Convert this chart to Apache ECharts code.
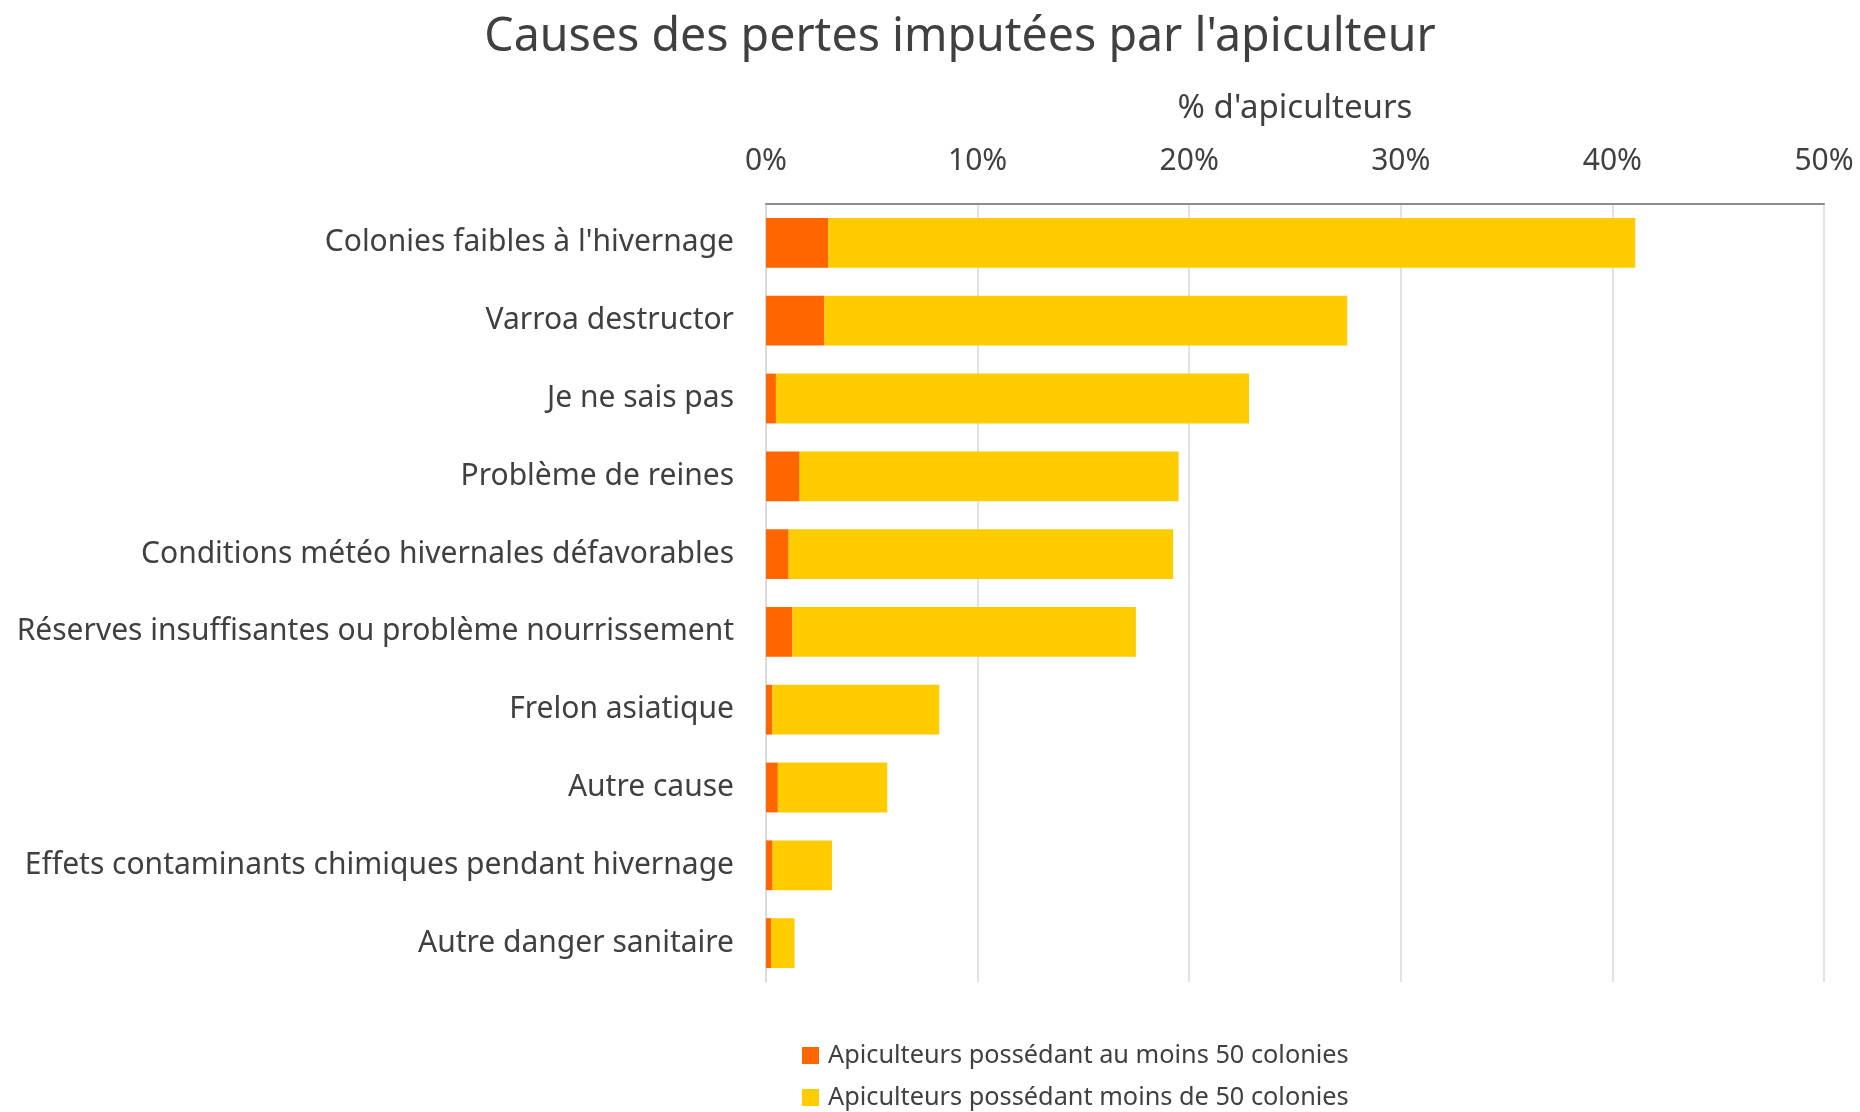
<!DOCTYPE html>
<html>
<head>
<meta charset="utf-8">
<title>Causes des pertes</title>
<script src="https://cdn.jsdelivr.net/npm/echarts@6/dist/echarts.min.js"></script>
<style>
  html, body { margin: 0; padding: 0; background: #fff; }
  #chart { width: 1860px; height: 1112px; }
</style>
</head>
<body>
<div id="chart"></div>
<script>
// libellés des causes, de haut en bas
const causes = [
  "Colonies faibles à l'hivernage",
  'Varroa destructor',
  'Je ne sais pas',
  'Problème de reines',
  'Conditions météo hivernales défavorables',
  'Réserves insuffisantes ou problème nourrissement',
  'Frelon asiatique',
  'Autre cause',
  'Effets contaminants chimiques pendant hivernage',
  'Autre danger sanitaire'
]
// % d'apiculteurs, au moins 50 colonies
const auMoins50 = [2.95, 2.76, 0.47, 1.59, 1.07, 1.25, 0.30, 0.56, 0.31, 0.24]
// % d'apiculteurs, moins de 50 colonies
const moinsDe50 = [38.13, 24.71, 22.36, 17.91, 18.17, 16.23, 7.89, 5.17, 2.81, 1.11]
const xTicks = [0, 10, 20, 30, 40, 50]

const font = '"Noto Sans", "Open Sans", sans-serif'
const txt = '#404040'

const chart = echarts.init(document.getElementById('chart'))
chart.setOption({
  animation: false,
  textStyle: { fontFamily: font, color: txt },
  title: {
    text: "Causes des pertes imputées par l'apiculteur",
    left: 955, top: 9, textAlign: 'center',
    textStyle: { fontFamily: font, fontSize: 46.5, fontWeight: 'normal', color: txt }
  },
  legend: {
    orient: 'vertical',
    left: 802, top: 1043,
    padding: 0,
    itemWidth: 17, itemHeight: 17, itemGap: 17,
    icon: 'rect',
    textStyle: { fontFamily: font, fontSize: 25.3, lineHeight: 25, color: txt, padding: [0, 0, 0, 4] }
  },
  grid: { left: 766, right: 36, top: 204, height: 778, containLabel: false },
  xAxis: {
    type: 'value',
    position: 'top',
    min: xTicks[0], max: xTicks[xTicks.length - 1], interval: 10,
    name: "% d'apiculteurs",
    nameLocation: 'middle',
    nameGap: 79,
    nameTextStyle: { fontFamily: font, fontSize: 33, color: txt },
    axisLine: { show: true, lineStyle: { color: '#8c8c8c', width: 2 } },
    axisTick: { show: false },
    axisLabel: {
      margin: 28,
      fontSize: 30, color: txt, fontFamily: font,
      formatter: v => v + '%'
    },
    splitLine: { show: true, lineStyle: { color: '#d9d9d9', width: 1.5 } }
  },
  yAxis: {
    type: 'category',
    data: causes,
    inverse: true,
    axisLine: { show: true, lineStyle: { color: '#d9d9d9', width: 1.5 } },
    axisTick: { show: false },
    axisLabel: { margin: 32, fontSize: 30, color: txt, fontFamily: font }
  },
  series: [
    {
      name: 'Apiculteurs possédant au moins 50 colonies',
      type: 'bar', stack: 'total', data: auMoins50,
      barWidth: '64%',
      itemStyle: { color: '#ff6600' }
    },
    {
      name: 'Apiculteurs possédant moins de 50 colonies',
      type: 'bar', stack: 'total', data: moinsDe50,
      barWidth: '64%',
      itemStyle: { color: '#ffcc00' }
    }
  ]
})
</script>
</body>
</html>
